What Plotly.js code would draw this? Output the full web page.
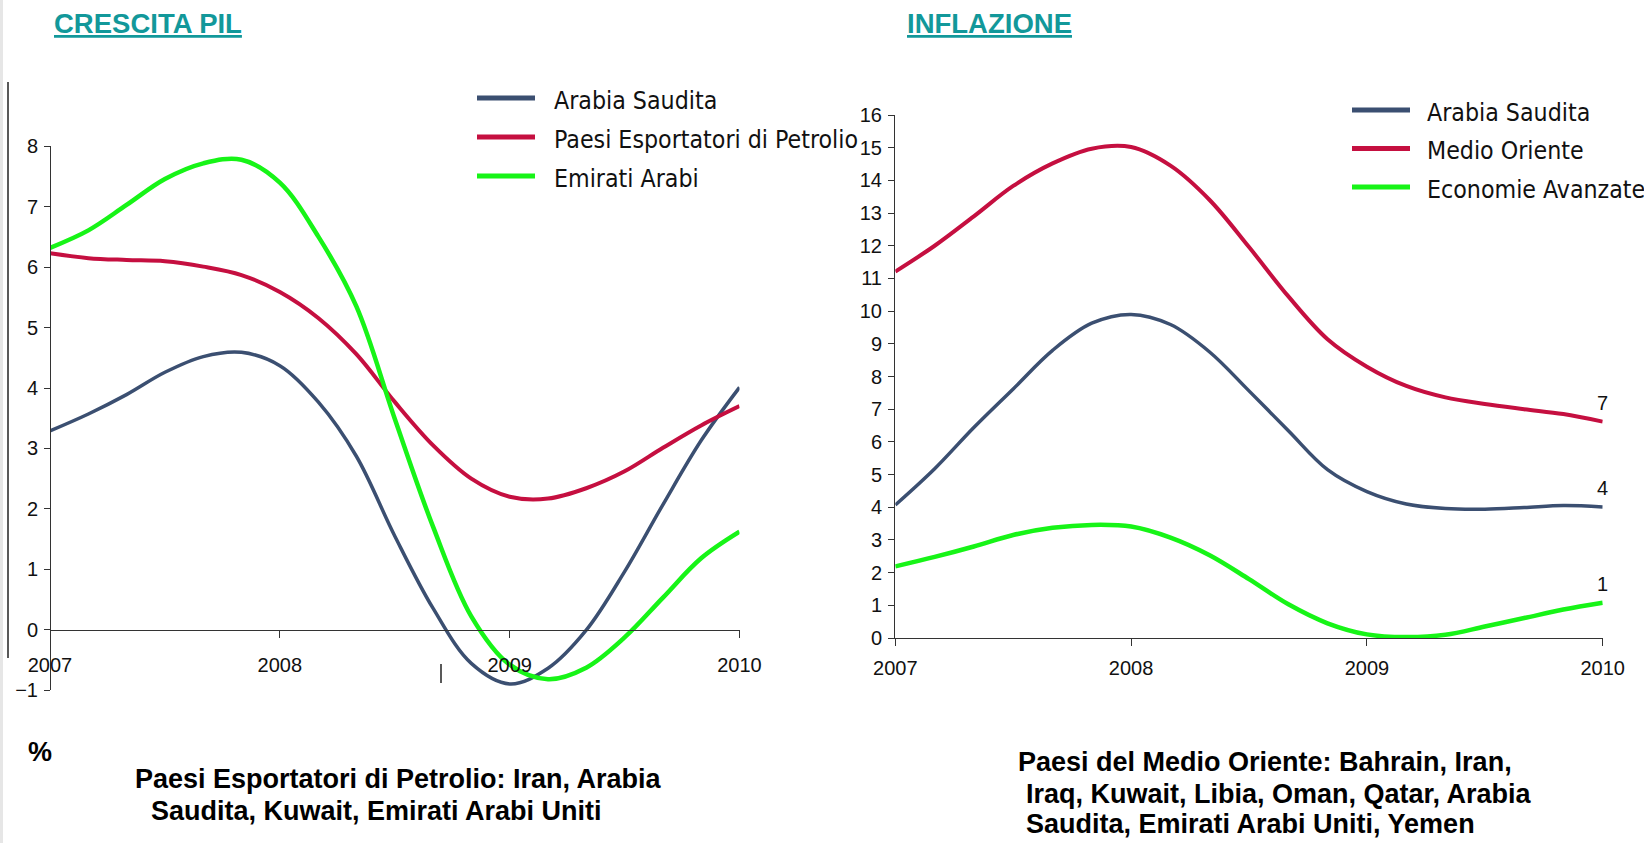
<!DOCTYPE html>
<html>
<head>
<meta charset="utf-8">
<script src="https://cdn.plot.ly/plotly-3.0.1.min.js"></script>
<style>html,body{margin:0;padding:0;background:#fff;}#chart{width:1644px;height:843px;}</style>
</head>
<body>
<div id="chart"></div>
<script>
// ---- data ----
const periods = [2007.000, 2007.167, 2007.333, 2007.500, 2007.667, 2007.833, 2008.000, 2008.167, 2008.333, 2008.500, 2008.667, 2008.833, 2009.000, 2009.167, 2009.333, 2009.500, 2009.667, 2009.833, 2010.000];
const yearTicks = [2007, 2008, 2009, 2010];
const yearLabels = ['2007', '2008', '2009', '2010'];

// Crescita PIL (%)
const pilNames = ['Arabia Saudita', 'Paesi Esportatori di Petrolio', 'Emirati Arabi'];
const pilArabia = [3.29, 3.57, 3.89, 4.26, 4.52, 4.59, 4.37, 3.77, 2.87, 1.55, 0.35, -0.56, -0.90, -0.64, -0.01, 0.96, 2.07, 3.13, 4.01];
const pilEsportatori = [6.23, 6.15, 6.12, 6.10, 6.01, 5.87, 5.59, 5.16, 4.56, 3.77, 3.05, 2.50, 2.20, 2.17, 2.34, 2.62, 3.01, 3.38, 3.70];
const pilEmirati = [6.32, 6.61, 7.03, 7.46, 7.72, 7.78, 7.40, 6.51, 5.35, 3.49, 1.70, 0.22, -0.58, -0.82, -0.63, -0.13, 0.53, 1.18, 1.62];

// Inflazione (%)
const infNames = ['Arabia Saudita', 'Medio Oriente', 'Economie Avanzate'];
const infArabia = [4.07, 5.18, 6.44, 7.62, 8.80, 9.63, 9.90, 9.59, 8.75, 7.56, 6.34, 5.15, 4.48, 4.10, 3.96, 3.94, 3.99, 4.05, 4.01];
const infMedioOriente = [11.21, 12.00, 12.90, 13.83, 14.52, 14.97, 15.02, 14.45, 13.40, 11.96, 10.45, 9.14, 8.30, 7.71, 7.36, 7.16, 7.00, 6.85, 6.62];
const infAvanzate = [2.19, 2.48, 2.80, 3.15, 3.37, 3.46, 3.41, 3.07, 2.53, 1.80, 1.03, 0.45, 0.11, 0.03, 0.10, 0.35, 0.61, 0.87, 1.08];

// ---- style ----
const colors = ['#3b4f71', '#c50f40', '#17f417'];
const widths = [3.5, 4, 4.5];
const W = 1644, H = 843;
const px = v => v / W;
const py = v => 1 - v / H;
const tickFont = {family: 'Liberation Sans Narrow, Arial Narrow, sans-serif', size: 20, color: '#111'};
const legFont = {family: 'DejaVu Sans Condensed, DejaVu Sans, sans-serif', size: 24.7, color: '#111'};
const noteFont = {family: 'Liberation Sans, Arial, sans-serif', size: 27, color: '#000'};
const titleFont = {family: 'Liberation Sans, Arial, sans-serif', size: 27.5, color: '#12989a', lineposition: 'under'};

const pilSeries = [pilArabia, pilEsportatori, pilEmirati];
const infSeries = [infArabia, infMedioOriente, infAvanzate];

const traces = [];
pilSeries.forEach((s, i) => traces.push({
  x: periods, y: s, type: 'scatter', mode: 'lines', name: pilNames[i],
  line: {color: colors[i], width: widths[i], shape: 'spline', smoothing: 1},
  xaxis: 'x', yaxis: 'y', showlegend: false, hoverinfo: 'skip'
}));
infSeries.forEach((s, i) => traces.push({
  x: periods, y: s, type: 'scatter', mode: 'lines', name: infNames[i],
  line: {color: colors[i], width: widths[i], shape: 'spline', smoothing: 1},
  xaxis: 'x2', yaxis: 'y2', showlegend: false, hoverinfo: 'skip'
}));

const annotations = [];
const shapes = [];

// titles
annotations.push({text: '<b>CRESCITA PIL</b>', xref: 'paper', yref: 'paper', x: px(52), y: py(23), xanchor: 'left', yanchor: 'middle', showarrow: false, font: titleFont});
annotations.push({text: '<b>INFLAZIONE</b>', xref: 'paper', yref: 'paper', x: px(905), y: py(23), xanchor: 'left', yanchor: 'middle', showarrow: false, font: titleFont});

// legends (drawn as lines + text)
function legend(names, x0, x1, xt, ys) {
  names.forEach((n, i) => {
    shapes.push({type: 'line', xref: 'paper', yref: 'paper', x0: px(x0), x1: px(x1), y0: py(ys[i]), y1: py(ys[i]), line: {color: colors[i], width: 5}});
    annotations.push({text: n, xref: 'paper', yref: 'paper', x: px(xt), y: py(ys[i] + 2), xanchor: 'left', yanchor: 'middle', showarrow: false, font: legFont});
  });
}
legend(pilNames, 477, 535, 552, [98, 137, 176]);
legend(infNames, 1352, 1410, 1425, [110, 148.5, 187]);

// end value labels on inflation chart
infSeries.forEach(s => annotations.push({
  text: String(Math.round(s[s.length - 1])), xref: 'x2', yref: 'y2',
  x: periods[periods.length - 1], y: s[s.length - 1], yshift: 19, showarrow: false,
  font: tickFont
}));

// footnotes
const notes = [
  ['<b>%</b>', 26, 752],
  ['<b>Paesi Esportatori di Petrolio: Iran, Arabia</b>', 133, 779],
  ['<b>Saudita, Kuwait, Emirati Arabi Uniti</b>', 149, 811],
  ['<b>Paesi del Medio Oriente: Bahrain, Iran,</b>', 1016, 762],
  ['<b>Iraq, Kuwait, Libia, Oman, Qatar, Arabia</b>', 1024, 794],
  ['<b>Saudita, Emirati Arabi Uniti, Yemen</b>', 1024, 824]
];
notes.forEach(n => annotations.push({text: n[0], xref: 'paper', yref: 'paper', x: px(n[1]), y: py(n[2]), xanchor: 'left', yanchor: 'middle', showarrow: false, font: noteFont}));

// page decorations
shapes.push({type: 'rect', xref: 'paper', yref: 'paper', x0: 0, x1: px(3), y0: 0, y1: 1, line: {width: 0}, fillcolor: '#e6e6e6', layer: 'below'});
shapes.push({type: 'line', xref: 'paper', yref: 'paper', x0: px(8), x1: px(8), y0: py(82), y1: py(658), line: {color: '#222', width: 1.5}});
shapes.push({type: 'line', xref: 'paper', yref: 'paper', x0: px(441), x1: px(441), y0: py(664), y1: py(683), line: {color: '#222', width: 1.5}});

const axLine = '#333';
const layout = {
  width: W, height: H,
  margin: {l: 0, r: 0, t: 0, b: 0},
  paper_bgcolor: '#fff', plot_bgcolor: 'rgba(0,0,0,0)',
  showlegend: false,
  xaxis: {domain: [px(50), px(739.5)], range: [2007, 2010], anchor: 'free', position: (H - 630) / H,
    tickvals: yearTicks, ticktext: yearLabels, ticks: 'outside', ticklen: 7, tickcolor: axLine, tickwidth: 1,
    showline: true, linecolor: axLine, linewidth: 1.3, showgrid: false, zeroline: false, tickfont: tickFont, ticklabelstandoff: 10},
  yaxis: {domain: [(H - 690) / H, (H - 146.4) / H], range: [-1, 8], dtick: 1, tick0: 0, anchor: 'free', position: px(50),
    ticks: 'outside', ticklen: 6, tickcolor: axLine, showline: true, linecolor: axLine, linewidth: 1.3,
    showgrid: false, zeroline: false, tickfont: tickFont, ticklabelstandoff: 2},
  xaxis2: {domain: [px(895.3), px(1602.7)], range: [2007, 2010], anchor: 'y2',
    tickvals: yearTicks, ticktext: yearLabels, ticks: 'outside', ticklen: 7, tickcolor: axLine,
    showline: true, linecolor: axLine, linewidth: 1.3, showgrid: false, zeroline: false, tickfont: tickFont, ticklabelstandoff: 5},
  yaxis2: {domain: [(H - 638) / H, (H - 115) / H], range: [0, 16], dtick: 1, tick0: 0, anchor: 'x2',
    ticks: 'outside', ticklen: 6, tickcolor: axLine, showline: true, linecolor: axLine, linewidth: 1.3,
    showgrid: false, zeroline: false, tickfont: tickFont, ticklabelstandoff: 2},
  annotations: annotations,
  shapes: shapes
};

Plotly.newPlot('chart', traces, layout, {staticPlot: true, displayModeBar: false});
</script>
</body>
</html>
